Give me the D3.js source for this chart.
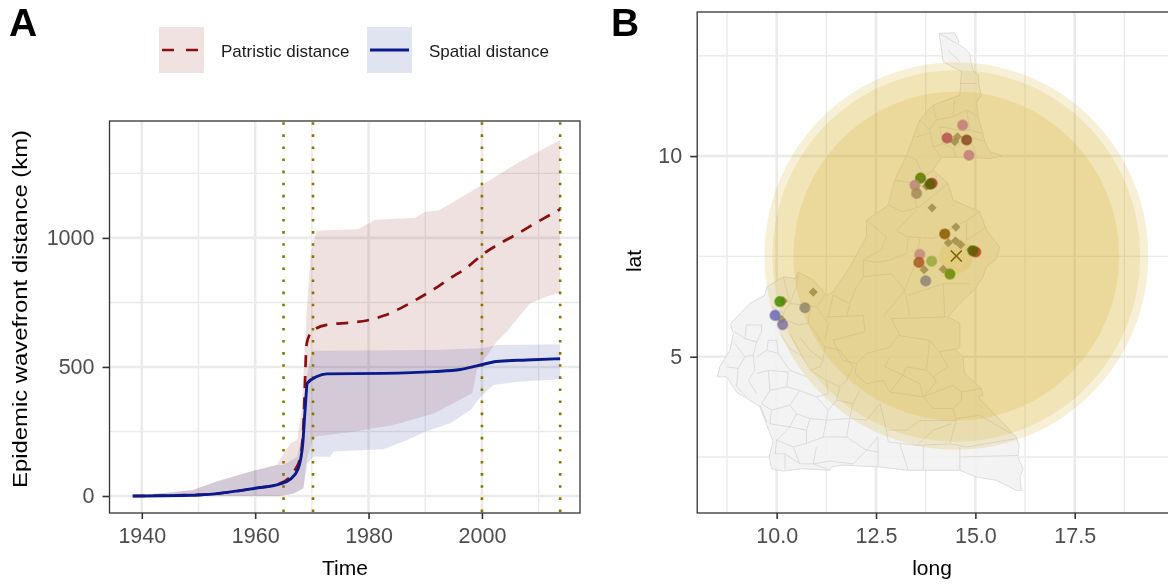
<!DOCTYPE html>
<html>
<head>
<meta charset="utf-8">
<script src="https://cdn.jsdelivr.net/npm/d3@7"></script>
<style>
  html, body { margin: 0; padding: 0; background: #fff; overflow: hidden; }
  svg { display: block; font-family: "Liberation Sans", Arial, sans-serif; filter: blur(0.45px); }
</style>
</head>
<body>
<div id="chart"></div>
<script>
// panel A: [year, km]
const patristicMedian = [[1938.4,0],[1950.3,5],[1960,30],[1964.4,49],[1966.8,94],[1968,152],[1968.5,269],[1969.1,592],[1970,637],[1972.6,663],[1976.8,672],[1979.7,680],[1982.6,698],[1985.6,727],[1988.5,762],[1991.5,801],[1994.4,844],[1997.4,886],[2000,934],[2003.2,979],[2006.2,1015],[2009.1,1053],[2013.8,1111]];
const spatialMedian = [[1938.4,0],[1950.3,4],[1960,30],[1964.4,47],[1966.2,65],[1967.6,107],[1968.4,204],[1968.8,333],[1969.2,437],[1970.9,463],[1972.6,473],[1982.6,475],[1991.5,482],[1996.2,490],[1999.1,504],[2002.6,521],[2007.9,527],[2013.8,532]];
const patristicUpper = [[1938.4,0],[1944.4,13],[1949,23],[1953.2,56],[1959.7,98],[1963.8,120],[1966.2,204],[1967.4,217],[1968.2,333],[1969.1,721],[1969.8,941],[1970.9,1028],[1978.2,1035],[1981.2,1070],[1988.2,1078],[1990,1101],[1992.4,1106],[2000,1205],[2006.2,1289],[2013.8,1380]];
const patristicLower = [[1938.4,0],[1964.4,0],[1966.8,10],[1968.5,30],[1969.1,140],[1970.3,230],[1977.3,249],[1984.4,275],[1991.5,320],[1998.3,398],[1999.1,488],[2002,579],[2002.6,598],[2004.4,637],[2008.5,747],[2011.5,773],[2013.8,788]];
const spatialUpper = [[1938.4,0],[1944.4,13],[1949,23],[1953.2,56],[1959.7,98],[1963.8,120],[1965,120],[1967.4,152],[1968.2,230],[1969.1,462],[1970,563],[1991.5,566],[2000,572],[2002.6,585],[2013.8,588]];
const spatialLower = [[1938.4,0],[1964.4,0],[1966.8,10],[1968.5,30],[1969.2,127],[1970.3,152],[1973.2,152],[1973.8,172],[1982.6,181],[1986.8,217],[1990,249],[1994.4,282],[1998,333],[1999.8,385],[2002,430],[2006.2,443],[2013.8,452]];
const samplingYears = [1965, 1970.2, 2000, 2013.8];
const yearTicks = [1940, 1960, 1980, 2000];
const yearMinor = [1950, 1970, 1990, 2010];
const kmTicks = [0, 500, 1000];
const kmMinor = [250, 750, 1250];

// panel B: [long, lat]
const countryOutline = [[14.09,13.06],[14.48,13.07],[14.59,12.85],[14.56,12.79],[14.73,12.68],[14.86,12.56],[14.90,12.31],[14.96,12.10],[15.07,12.02],[15.09,11.77],[15.15,11.52],[15.03,11.35],[15.07,10.98],[15.19,10.56],[15.24,10.36],[15.36,10.11],[15.70,10.00],[15.36,9.94],[14.78,9.97],[14.15,9.97],[13.94,9.65],[14.31,9.32],[14.44,8.90],[15.11,8.61],[15.19,8.40],[15.28,8.15],[15.61,7.74],[15.53,7.45],[15.28,7.24],[15.19,6.99],[15.0,6.70],[14.61,6.33],[14.31,5.99],[14.61,5.83],[14.61,5.24],[14.52,5.16],[14.69,4.99],[14.73,4.58],[15.15,4.21],[15.19,4.04],[15.07,4.0],[16.03,3.0],[16.10,2.79],[16.07,2.50],[16.20,2.21],[16.12,2.0],[16.16,1.67],[16.03,1.67],[15.53,1.92],[15.03,2.0],[14.61,2.17],[13.31,2.17],[12.60,2.25],[11.67,2.30],[11.38,2.25],[11.34,2.17],[10.63,2.21],[10.17,2.15],[9.87,2.21],[9.81,2.50],[9.91,2.88],[9.58,3.75],[9.33,3.91],[8.99,4.12],[8.74,4.50],[8.51,4.50],[8.57,4.75],[8.82,5.16],[8.91,5.58],[8.84,5.83],[9.33,6.33],[9.70,6.53],[9.75,6.74],[10.17,6.99],[10.46,6.95],[10.54,7.11],[10.92,6.91],[11.26,6.53],[11.42,6.62],[11.82,7.20],[12.26,7.99],[12.26,8.40],[12.81,8.78],[12.97,9.40],[13.27,10.02],[13.60,10.90],[13.94,11.27],[14.61,11.52],[14.65,12.10],[14.19,12.35]];
const districtLines = [
  [[11.26,5.99],[12.18,6.03],[12.22,5.62],[11.42,5.41]],
  [[11.42,5.41],[11.67,4.91],[12.01,4.83],[12.26,5.08],[12.85,5.24],[13.06,5.53],[13.85,5.41],[13.77,4.66]],
  [[12.89,5.95],[13.10,5.53]],
  [[12.89,5.95],[14.31,5.99]],
  [[13.85,5.41],[14.10,5.12],[14.52,5.20]],
  [[14.10,5.12],[14.31,4.75],[13.94,4.50],[13.77,4.66]],
  [[13.94,4.50],[14.02,4.37],[13.69,4.0],[13.94,3.71],[14.44,3.71],[14.65,3.91],[14.65,4.12],[15.15,4.21]],
  [[14.65,4.12],[14.44,4.29],[13.69,4.0]],
  [[12.01,4.83],[11.97,4.58],[12.26,4.33],[12.68,4.41],[12.85,4.12],[13.69,4.0]],
  [[12.85,5.0],[12.72,4.75],[13.18,4.54],[13.27,4.75],[13.77,4.66]],
  [[13.18,4.54],[12.85,4.12]],
  [[13.18,4.54],[13.60,4.33],[13.69,4.0]],
  [[14.44,3.71],[14.52,3.41],[14.40,3.0],[14.36,2.83]],
  [[14.52,3.46],[15.11,3.54],[15.91,3.08]],
  [[14.52,3.41],[13.60,3.41],[13.27,3.17],[12.76,3.17],[12.60,3.83]],
  [[12.76,3.17],[12.81,2.88],[13.52,2.79],[13.94,3.17],[14.40,3.33]],
  [[14.36,2.83],[13.52,2.79]],
  [[14.36,2.83],[14.78,2.75],[16.03,2.96]],
  [[14.61,2.50],[16.07,2.54]],
  [[14.61,2.75],[14.61,2.17]],
  [[13.69,2.79],[13.69,2.17]],
  [[13.10,2.83],[13.31,2.17]],
  [[12.55,3.0],[12.55,2.25]],
  [[12.55,3.0],[12.26,2.67]],
  [[12.26,2.67],[12.55,2.63]],
  [[8.95,5.62],[9.20,5.45],[9.24,5.79],[9.62,5.79]],
  [[9.20,5.45],[9.50,5.37],[9.62,5.62],[9.62,5.79]],
  [[8.95,5.33],[9.20,5.0],[9.41,5.04],[9.50,5.37]],
  [[8.74,4.75],[9.03,4.71],[9.20,5.0]],
  [[9.03,4.71],[8.99,4.25],[9.24,4.0]],
  [[9.41,5.04],[9.45,4.66],[9.29,4.41],[9.50,4.08]],
  [[9.79,5.41],[10.0,5.41],[10.04,5.08],[9.75,5.16],[9.79,5.41]],
  [[9.50,5.0],[9.75,5.16]],
  [[9.50,4.58],[9.79,4.66],[10.29,4.62],[10.25,4.25],[9.83,4.16],[9.79,4.66]],
  [[10.04,5.08],[10.33,4.66],[10.75,4.50]],
  [[9.83,4.16],[9.62,3.83],[9.87,3.67],[10.33,3.79],[10.58,4.16],[10.25,4.25]],
  [[9.58,3.79],[9.75,3.38]],
  [[9.87,3.67],[9.83,3.33],[10.33,3.25],[10.50,3.58],[10.33,3.79]],
  [[10.58,4.16],[11.0,4.0],[11.30,3.67],[11.25,3.42],[10.84,3.46],[10.50,3.58]],
  [[10.84,3.46],[10.75,3.17],[10.33,3.25]],
  [[10.33,3.25],[10.0,2.92],[10.42,2.75],[10.75,2.84],[10.75,3.17]],
  [[11.25,3.42],[11.17,3.0],[10.75,2.84]],
  [[11.17,3.0],[11.76,3.0],[11.84,3.46],[11.25,3.42]],
  [[10.0,2.92],[9.96,2.58],[10.21,2.58],[10.21,2.17]],
  [[10.42,2.75],[10.58,2.33],[10.21,2.58]],
  [[11.0,2.75],[10.92,2.33],[11.34,2.17]],
  [[10.92,2.33],[11.34,2.40],[11.92,2.33],[12.26,2.67]],
  [[10.58,2.33],[10.92,2.33]],
  [[11.76,3.0],[12.26,2.67]],
  [[10.08,5.58],[10.33,5.20],[10.63,5.03],[10.84,4.66],[11.09,4.75]],
  [[10.33,5.58],[10.63,5.03]],
  [[10.58,5.49],[10.84,5.16],[11.17,4.91],[11.09,4.75]],
  [[10.84,4.66],[11.25,4.41],[11.30,4.08],[11.0,4.0]],
  [[11.25,4.41],[11.59,4.25],[11.76,4.41]],
  [[11.59,4.25],[11.51,3.92],[11.30,3.67]],
  [[11.51,3.92],[11.92,3.83],[12.09,4.16]],
  [[11.84,3.46],[12.26,3.42],[12.60,3.83]],
  [[11.92,3.83],[11.84,3.46]],
  [[10.25,5.91],[10.54,5.79],[10.79,5.83],[11.0,5.58]],
  [[10.79,5.83],[10.84,6.16]],
  [[11.0,5.58],[11.21,5.25],[11.17,4.91]],
  [[11.21,5.25],[11.59,5.16],[11.92,4.75],[11.76,4.41]],
  [[9.87,6.24],[10.17,6.08],[10.12,5.66]],
  [[10.17,6.99],[10.33,6.33],[10.17,6.08]],
  [[10.33,6.33],[11.0,6.24],[11.21,6.53]],
  [[11.0,6.24],[11.30,5.83],[11.21,5.41]],
  [[10.54,7.11],[10.50,6.74],[10.33,6.33]],
  [[11.42,6.53],[11.84,6.33],[12.01,6.74],[12.18,6.99]],
  [[11.42,6.53],[11.30,5.99]],
  [[11.84,6.33],[11.76,5.99]],
  [[12.18,6.99],[12.89,7.07],[13.22,6.66],[12.68,5.99]],
  [[13.22,6.66],[13.35,6.03]],
  [[13.31,6.53],[14.19,6.82],[14.23,5.99]],
  [[14.19,6.82],[14.86,6.82]],
  [[12.18,6.99],[12.18,7.41],[12.52,7.35],[12.85,7.41]],
  [[12.26,8.40],[12.76,7.99],[12.64,7.66],[12.18,7.41]],
  [[13.02,8.15],[13.27,7.99],[13.94,7.95],[14.78,8.40],[15.11,8.61]],
  [[12.81,8.78],[13.18,8.61],[13.60,8.74],[14.31,9.32]],
  [[13.02,8.15],[13.52,8.65]],
  [[13.31,7.95],[13.27,7.57],[12.85,7.41]],
  [[13.60,7.95],[13.52,7.41],[13.22,6.66]],
  [[14.78,8.40],[14.78,7.90]],
  [[15.28,8.24],[14.95,8.0],[14.78,7.90]],
  [[12.97,9.40],[13.44,9.32],[13.60,9.07]],
  [[13.44,9.32],[13.52,8.74]],
  [[13.27,10.02],[13.52,9.90],[13.69,9.48],[13.44,9.32]],
  [[13.94,9.65],[13.69,9.48]],
  [[13.60,10.90],[13.85,10.65],[13.94,10.23],[14.15,9.97]],
  [[13.52,10.48],[13.85,10.57]],
  [[13.94,11.27],[14.02,10.90],[13.85,10.65]],
  [[14.02,10.90],[14.44,10.98],[14.48,11.39]],
  [[14.44,10.98],[14.78,11.15],[15.07,10.98]],
  [[14.61,11.81],[15.03,11.81]],
  [[14.78,11.15],[14.86,10.65],[15.19,10.56]],
  [[14.10,10.73],[14.61,10.65],[14.86,10.65]],
  [[14.10,10.73],[14.19,10.31],[13.94,10.23]],
  [[14.19,10.31],[14.44,10.19],[14.86,10.48],[15.24,10.36]],
  [[14.86,10.48],[15.03,9.98]],
  [[14.44,10.19],[14.52,9.98]],
  [[14.10,13.06],[14.52,12.81]],
  [[14.31,12.64],[14.61,12.35]]
];
const sampleLong = [14.68,14.29,14.78,14.84,13.62,13.48,13.52,13.91,13.86,14.23,15.01,14.94,13.60,13.58,13.90,14.36,13.75,10.08,9.96,10.15,10.71];
const sampleLat = [10.77,10.45,10.40,10.02,9.45,9.27,9.07,9.32,9.30,8.06,7.61,7.64,7.55,7.35,7.38,7.06,6.89,6.375,6.03,5.80,6.22];
const sampleColor = ["#c27d78","#b8504f","#8a4a20","#c27d78","#5c7a00","#b98a78","#a88a5a","#a8363a","#5c6200","#8a5a00","#b8431f","#5c6200","#c48a80","#a85a20","#9aa83a","#6a8a00","#8f8478","#4a8a00","#6a6ab8","#7f76a0","#938a6c"];
const diamondLong = [14.55,14.48,13.91,14.51,14.32,14.50,14.63,13.71,14.19,13.77,14.88,10.92,10.12,10.17];
const diamondLat = [10.48,10.36,8.71,8.23,7.84,7.89,7.79,7.17,7.18,9.25,7.67,6.61,5.93,6.39];
const rootLong = 14.52, rootLat = 7.51;
const waveRadius = [4.83, 4.63, 4.1, 0.43];
const longTicks = [10, 12.5, 15, 17.5];
const longMinor = [8.75, 11.25, 13.75, 16.25, 18.75];
const latTicks = [5, 10];
const latMinor = [2.5, 7.5, 12.5];

const svg = d3.select("#chart").append("svg").attr("width", 1168).attr("height", 585);

function drawGrid(g, x, y, xMajor, xMinor, yMajor, yMinor){
    const [x0, x1] = x.range(), [y0, y1] = y.range();
    const vLine = (vals, w) => g.append("g").selectAll("line").data(vals).join("line")
        .attr("x1", x).attr("x2", x).attr("y1", y0).attr("y2", y1)
        .attr("stroke", "#ebebeb").attr("stroke-width", w);
    const hLine = (vals, w) => g.append("g").selectAll("line").data(vals).join("line")
        .attr("y1", y).attr("y2", y).attr("x1", x0).attr("x2", x1)
        .attr("stroke", "#ebebeb").attr("stroke-width", w);
    vLine(xMinor, 1.4); hLine(yMinor, 1.4);
    vLine(xMajor, 2.6); hLine(yMajor, 2.6);
}

function drawAxes(g, x, y, xMajor, yMajor, xFmt){
    const axB = g.append("g").attr("transform", `translate(0,${y.range()[0]})`)
        .call(d3.axisBottom(x).tickValues(xMajor).tickFormat(xFmt).tickSizeOuter(0).tickSize(6).tickPadding(9));
    const axL = g.append("g").attr("transform", `translate(${x.range()[0]},0)`)
        .call(d3.axisLeft(y).tickValues(yMajor).tickFormat(d3.format("d")).tickSizeOuter(0).tickSize(7).tickPadding(8));
    [axB, axL].forEach(ax => {
        ax.select(".domain").remove();
        ax.selectAll("line").attr("stroke", "#333").attr("stroke-width", 1.6);
        ax.selectAll("text").attr("fill", "#4d4d4d").style("font-size", "21.5px").style("font-family", "inherit");
    });
}

function drawFrame(g, x, y){
    g.append("rect")
        .attr("x", x.range()[0]).attr("y", y.range()[1])
        .attr("width", x.range()[1] - x.range()[0]).attr("height", y.range()[0] - y.range()[1])
        .attr("fill", "none").attr("stroke", "#333").attr("stroke-width", 1.3);
}

// ---- panel A
const xA = d3.scaleLinear().domain([1934.3, 2017.3]).range([109.5, 580]);
const yA = d3.scaleLinear().domain([-65.9, 1453]).range([513, 121]);
const gA = svg.append("g");
drawGrid(gA, xA, yA, yearTicks, yearMinor, kmTicks, kmMinor);

// ribbons have different x knots, so close them by walking up then back down
const polyLine = d3.line().x(d => xA(d[0])).y(d => yA(d[1]));
const ribbon = (up, lo) => polyLine(up.concat(lo.slice().reverse())) + "Z";
gA.append("path").attr("d", ribbon(patristicUpper, patristicLower)).attr("fill", "#8b1a1a").attr("fill-opacity", 0.13);
gA.append("path").attr("d", ribbon(spatialUpper, spatialLower)).attr("fill", "#1a2a8b").attr("fill-opacity", 0.13);

gA.append("g").selectAll("line").data(samplingYears).join("line")
    .attr("x1", xA).attr("x2", xA).attr("y1", yA.range()[0] - 1).attr("y2", yA.range()[1])
    .attr("stroke", "#8b7500").attr("stroke-width", 2.6).attr("stroke-dasharray", "2.6 9.5");

const medLine = d3.line().x(d => xA(d[0])).y(d => yA(d[1])).curve(d3.curveMonotoneX);
gA.append("path").attr("d", medLine(patristicMedian)).attr("fill", "none")
    .attr("stroke", "#8b0f0f").attr("stroke-width", 2.7).attr("stroke-dasharray", "12 9");
gA.append("path").attr("d", medLine(spatialMedian)).attr("fill", "none")
    .attr("stroke", "#0a1a8c").attr("stroke-width", 2.9);

drawFrame(gA, xA, yA);
drawAxes(gA, xA, yA, yearTicks, kmTicks, d3.format("d"));

gA.append("text").attr("x", 345).attr("y", 575).attr("text-anchor", "middle").attr("font-size", 21).text("Time");
// the reference label is stretched along its length
gA.append("text").attr("transform", "translate(27,309) rotate(-90)").attr("text-anchor", "middle")
    .attr("font-size", 20).attr("textLength", 358).attr("lengthAdjust", "spacingAndGlyphs")
    .text("Epidemic wavefront distance (km)");
svg.append("text").attr("x", 9).attr("y", 36).attr("font-size", 39).attr("font-weight", "bold").text("A");

// legend
const legend = svg.append("g");
legend.append("rect").attr("x", 159).attr("y", 27).attr("width", 45).attr("height", 46).attr("fill", "#f1e2e2");
legend.append("line").attr("x1", 162).attr("x2", 201).attr("y1", 50).attr("y2", 50)
    .attr("stroke", "#8b0f0f").attr("stroke-width", 2.7).attr("stroke-dasharray", "12 12");
legend.append("text").attr("x", 221).attr("y", 56.5).attr("font-size", 17).attr("fill", "#1a1a1a").text("Patristic distance");
legend.append("rect").attr("x", 367).attr("y", 27).attr("width", 45).attr("height", 46).attr("fill", "#e0e3f0");
legend.append("line").attr("x1", 370).attr("x2", 409).attr("y1", 50).attr("y2", 50)
    .attr("stroke", "#0a1a8c").attr("stroke-width", 2.9);
legend.append("text").attr("x", 429).attr("y", 56.5).attr("font-size", 17).attr("fill", "#1a1a1a").text("Spatial distance");

// ---- panel B, runs off the right edge of the page
const xB = d3.scaleLinear().domain([8, 20.2]).range([697.2, 1182]);
const yB = d3.scaleLinear().domain([1.106, 13.59]).range([513, 12]);
const gB = svg.append("g");
drawGrid(gB, xB, yB, longTicks, longMinor, latTicks, latMinor);

const mapLine = d3.line().x(d => xB(d[0])).y(d => yB(d[1]));
gB.append("path").attr("d", mapLine(countryOutline) + "Z").attr("fill", "#f2f2f2").attr("fill-opacity", 0.9)
    .attr("stroke", "#d6d6d6").attr("stroke-width", 0.8);
gB.append("g").selectAll("path").data(districtLines).join("path")
    .attr("d", mapLine).attr("fill", "none").attr("stroke", "#d6d6d6").attr("stroke-width", 0.8);

gB.append("g").selectAll("ellipse").data(waveRadius).join("ellipse")
    .attr("cx", xB(rootLong)).attr("cy", yB(rootLat))
    .attr("rx", r => xB(rootLong + r) - xB(rootLong))
    .attr("ry", r => yB(rootLat) - yB(rootLat + r))
    .attr("fill", "#d4ae20").attr("fill-opacity", 0.18);

gB.append("g").selectAll("path").data(diamondLong).join("path")
    .attr("d", d3.symbol(d3.symbolSquare, 42))
    .attr("transform", (d, i) => `translate(${xB(d)},${yB(diamondLat[i])}) rotate(45)`)
    .attr("fill", "#a08c4a").attr("fill-opacity", 0.85);

gB.append("g").selectAll("circle").data(sampleLong).join("circle")
    .attr("cx", d => xB(d)).attr("cy", (d, i) => yB(sampleLat[i])).attr("r", 4.8)
    .attr("fill", (d, i) => sampleColor[i]).attr("fill-opacity", 0.85)
    .attr("stroke", (d, i) => sampleColor[i]).attr("stroke-opacity", 0.55).attr("stroke-width", 2);

gB.append("g").selectAll("line").data([1, -1]).join("line")
    .attr("x1", xB(rootLong) - 5.5).attr("x2", xB(rootLong) + 5.5)
    .attr("y1", s => yB(rootLat) - s * 5.5).attr("y2", s => yB(rootLat) + s * 5.5)
    .attr("stroke", "#7a6000").attr("stroke-width", 1.5);

drawFrame(gB, xB, yB);
drawAxes(gB, xB, yB, longTicks, latTicks, d3.format(".1f"));

gB.append("text").attr("x", 932).attr("y", 575).attr("text-anchor", "middle").attr("font-size", 21).text("long");
gB.append("text").attr("transform", "translate(641,261) rotate(-90)").attr("text-anchor", "middle").attr("font-size", 21).text("lat");
svg.append("text").attr("x", 611).attr("y", 36).attr("font-size", 39).attr("font-weight", "bold").text("B");
</script>
</body>
</html>
